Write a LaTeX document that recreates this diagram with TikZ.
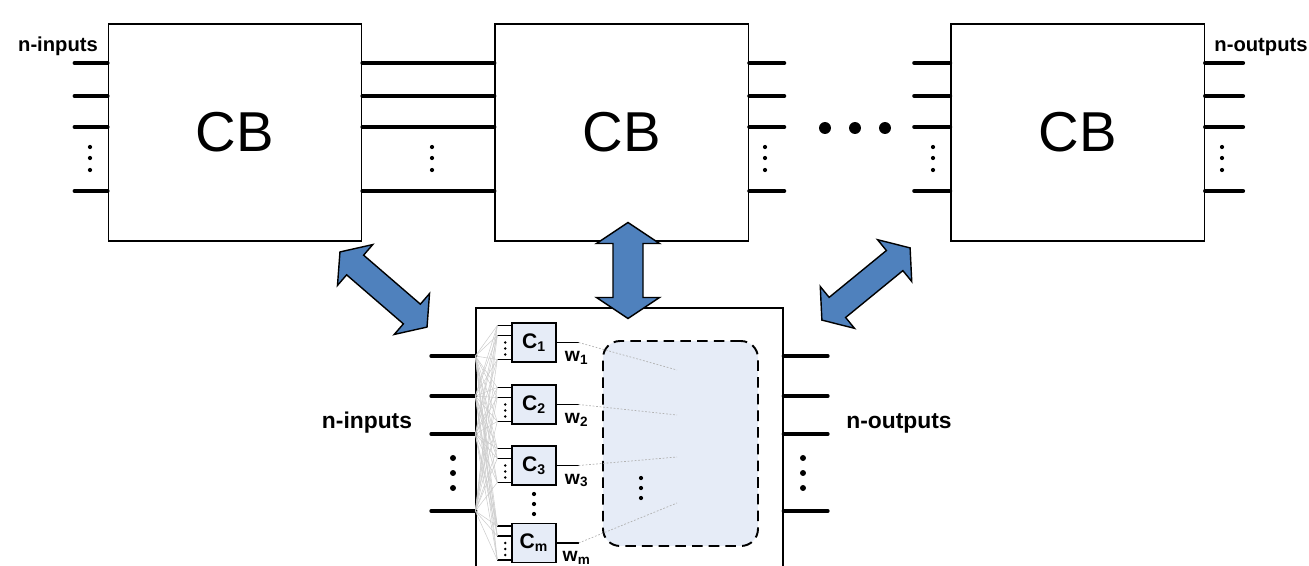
\documentclass[tikz,border=0pt]{standalone}
\usepackage{fontspec}
\setmainfont{Liberation Sans}
\usepackage{tikz}
\usetikzlibrary{positioning}
\definecolor{fatblue}{HTML}{4F81BD}
\definecolor{paleblue}{HTML}{E6ECF7}

% fat two-headed arrow: centre, angle, half length, half head, half shaft, head length
\newcommand{\fatarrow}[6]{%
  \draw[fatarr, shift={(#1)}, rotate=#2]
    (-#3,0) -- (-#3+#6,#4) -- (-#3+#6,#5) -- (#3-#6,#5) -- (#3-#6,#4)
    -- (#3,0) -- (#3-#6,-#4) -- (#3-#6,-#5) -- (-#3+#6,-#5) -- (-#3+#6,-#4)
    -- cycle;}

\begin{document}
\begin{tikzpicture}[x=0.02cm, y=-0.02cm,
  cb/.style={draw, line width=0.8pt, minimum width=5.07cm,
             minimum height=4.34cm, inner sep=0pt,
             font=\fontsize{32}{36}\selectfont},
  lead/.style={line width=2.3pt, line cap=round},
  thinlead/.style={line width=0.9pt},
  cell/.style={draw, fill=paleblue, line width=0.8pt, minimum width=0.88cm,
               minimum height=0.78cm, inner sep=0pt,
               font=\fontsize{12}{14}\selectfont\bfseries},
  wlab/.style={font=\fontsize{11}{12}\selectfont\bfseries, inner sep=0pt},
  pool/.style={draw, dash pattern=on 6pt off 3.5pt, line width=1.1pt,
               fill=paleblue, rounded corners=0.34cm, minimum width=3.1cm,
               minimum height=4.1cm},
  web/.style={gray!40, line width=0.3pt},
  faint/.style={gray!60, line width=0.4pt, dash pattern=on 1pt off 1pt},
  fatarr/.style={draw=black, fill=fatblue, line width=0.8pt, line join=miter},
  iolab/.style={font=\fontsize{11.5}{13}\selectfont\bfseries},
  dot/.style={radius=1.2pt}]
  \useasboundingbox (0,0) rectangle (1309,565);
  \clip (0,0) rectangle (1309,565);

  % chain of blocks
  \node[cb] (cb1) at (235,132.5) {CB};
  \node[cb, right=2.64cm of cb1] (cb2) {CB};
  \node[cb, right=4.02cm of cb2] (cb3) {CB};
  \node[iolab] (topin) at (58,46) {n-inputs};
  \node[iolab] (topout) at (1261,47) {n-outputs};

  \foreach \y in {63,96,127,191} {
    \draw[lead] (cb1.west |- 0,\y) -- ++(-33,0);
    \draw[lead] (cb1.east |- 0,\y) -- (cb2.west |- 0,\y);
    \draw[lead] (cb2.east |- 0,\y) -- ++(35,0);
    \draw[lead] (cb3.west |- 0,\y) -- ++(-36,0);
    \draw[lead] (cb3.east |- 0,\y) -- ++(38,0);
  }
  \foreach \x in {90,432,765,933,1222}
    \foreach \y in {147,158,170}
      \fill (\x,\y) circle[dot];
  \foreach \x in {825,855,885}
    \fill (\x,128) circle[radius=3.4pt];

  % expanded block
  \node[draw, line width=0.8pt, minimum width=6.14cm, minimum height=6.4cm]
    (unit) at (629.5,468) {};
  \foreach \y in {356,396,434,511} {
    \draw[lead] (unit.west |- 0,\y) -- ++(-44,0);
    \draw[lead] (unit.east |- 0,\y) -- ++(44,0);
  }
  \foreach \y in {458,473,488} {
    \fill (453,\y) circle[radius=1.7pt];
    \fill (803,\y) circle[radius=1.7pt];
  }
  \node[iolab, font=\fontsize{13}{15}\selectfont\bfseries] (botin) at (367,423) {n-inputs};
  \node[iolab, font=\fontsize{13}{15}\selectfont\bfseries] (botout) at (899,423) {n-outputs};

  \node[pool] (pool) at (680.5,443.5) {};
  \foreach \y in {478,488,498}
    \fill (641,\y) circle[dot];

  \node[cell] (c1) at (534,342.5) {C\textsubscript{1}};
  \node[cell] (c2) at (534,404.5) {C\textsubscript{2}};
  \node[cell] (c3) at (534,465.5) {C\textsubscript{3}};
  \node[cell] (cm) at (534,543) {C\textsubscript{m}};
  \foreach \y in {494,504,514}
    \fill (534,\y) circle[dot];

  \foreach \c in {c1,c2,c3,cm} {
    \foreach \d in {-17,-7,17}
      \draw[thinlead] ([shift={(0,\d)}]\c.west) -- ++(-14,0);
    \foreach \d in {0,6,12}
      \fill ([shift={(-6,\d)}]\c.west) circle[radius=0.8pt];
    \draw[thinlead] (\c.east) -- ++(22,0) coordinate (\c o);
  }
  \foreach \y in {356,396,434,511}
    \foreach \c in {c1,c2,c3,cm}
      \foreach \d in {-17,-7,17}
        \draw[web] (unit.west |- 0,\y) -- ([shift={(-14,\d)}]\c.west);

  \node[wlab] (w1) at ([shift={(-2,15)}]c1o) {w\textsubscript{1}};
  \node[wlab] (w2) at ([shift={(-2,15)}]c2o) {w\textsubscript{2}};
  \node[wlab] (w3) at ([shift={(-2,15)}]c3o) {w\textsubscript{3}};
  \node[wlab] (wm) at ([shift={(-2,15)}]cmo) {w\textsubscript{m}};

  \coordinate (p1) at (677,370);
  \coordinate (p2) at (677,415);
  \coordinate (p3) at (677,457);
  \coordinate (pm) at (677,503);
  \foreach \c/\p in {c1o/p1,c2o/p2,c3o/p3,cmo/pm}
    \draw[faint] (\c) -- (\p);

  % links between the chain and the expanded block
  \fatarrow{383.5,289.5}{-40.8}{57.5}{27}{13}{20}
  \fatarrow{628,270.5}{90}{48}{31.5}{15}{21}
  \fatarrow{866,284}{39.3}{57}{27}{13}{20}
\end{tikzpicture}
\end{document}
